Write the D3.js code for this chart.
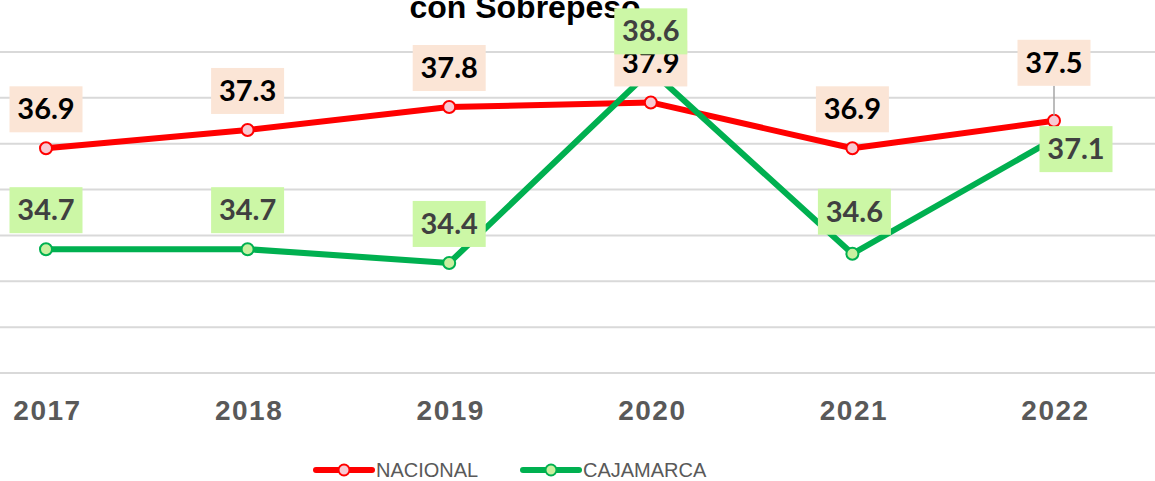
<!DOCTYPE html>
<html>
<head>
<meta charset="utf-8">
<script src="https://cdn.jsdelivr.net/npm/d3@7"></script>
<style>
  body { margin: 0; background: #fff; }
  svg { display: block; }
</style>
</head>
<body>
<div id="chart"></div>
<script>
'use strict';

// data
const years = ['2017', '2018', '2019', '2020', '2021', '2022'];
const nacional = [36.9, 37.3, 37.8, 37.9, 36.9, 37.5];
const cajamarca = [34.7, 34.7, 34.4, 38.6, 34.6, 37.1];
const yTicks = [32, 33, 34, 35, 36, 37, 38, 39];
const seriesNames = ['NACIONAL', 'CAJAMARCA'];

// label placement tweaks (Excel moved a couple of them by hand)
const nacionalLabelShift = [[0, 0], [0, 0], [0, 0], [0, 0], [0, 0], [0, -19]];
const cajamarcaLabelShift = [[0, 0], [0, 0], [0, 0], [0, 0], [2, -3], [22, 49]];

const W = 1155, H = 481;
const styles = [
    {line: '#FF0000', markFill: '#F8C9D2', markStroke: '#FF0000', boxFill: '#FBE5D6', text: '#000000', shift: nacionalLabelShift},
    {line: '#00B050', markFill: '#C9F0A0', markStroke: '#00B050', boxFill: '#CCF7A6', text: '#404040', shift: cajamarcaLabelShift}
];

const series = [nacional, cajamarca].map((vals, s) => ({
    name: seriesNames[s],
    style: styles[s],
    values: vals.map((v, i) => ({year: years[i], value: v, i: i}))
}));

const svg = d3.select('#chart').append('svg')
    .attr('width', W)
    .attr('height', H);

const x = d3.scalePoint().domain(years).range([46, 1054]);
const y = d3.scaleLinear().domain([32, 39]).range([373, 52]);

// gridlines
svg.append('g').attr('class', 'grid')
    .selectAll('line')
    .data(yTicks)
    .enter()
    .append('line')
    .attr('x1', 0)
    .attr('x2', W)
    .attr('y1', d => y(d))
    .attr('y2', d => y(d))
    .attr('stroke', '#D9D9D9')
    .attr('stroke-width', 2);

// x axis
const xAxis = d3.axisBottom(x).tickSize(0).tickPadding(27);
const xAxisGroup = svg.append('g')
    .attr('class', 'xAxis')
    .attr('transform', 'translate(0,' + y(32) + ')')
    .call(xAxis);
xAxisGroup.select('.domain').remove();
xAxisGroup.selectAll('text')
    .attr('fill', '#595959')
    .attr('dx', '1px')
    .style('font-family', '"Liberation Sans", Arial, sans-serif')
    .style('font-size', '28px')
    .style('letter-spacing', '1.5px')
    .style('font-weight', 'bold');

// title (first line cut off in the source picture)
svg.append('text')
    .attr('x', 525)
    .attr('y', 18)
    .attr('text-anchor', 'middle')
    .style('font-family', '"Liberation Sans", Arial, sans-serif')
    .style('font-size', '32px')
    .style('font-weight', 'bold')
    .attr('fill', '#000')
    .text('con Sobrepeso');

// lines + markers
const line = d3.line().x(d => x(d.year)).y(d => y(d.value));

series.forEach(s => {
    const g = svg.append('g').attr('class', 'series');
    g.append('path')
        .datum(s.values)
        .attr('d', line)
        .attr('fill', 'none')
        .attr('stroke', s.style.line)
        .attr('stroke-width', 6)
        .attr('stroke-linejoin', 'round')
        .attr('stroke-linecap', 'round');
    g.selectAll('circle')
        .data(s.values)
        .enter()
        .append('circle')
        .attr('cx', d => x(d.year))
        .attr('cy', d => y(d.value))
        .attr('r', 6)
        .attr('fill', s.style.markFill)
        .attr('stroke', s.style.markStroke)
        .attr('stroke-width', 2);
});

// data labels
const boxW = 73, boxH = 46, above = 39;

series.forEach(s => {
    const g = svg.append('g').attr('class', 'labels');
    s.values.forEach(d => {
        const px = x(d.year), py = y(d.value);
        const sh = s.style.shift[d.i];
        const cx = px + sh[0];
        const cy = py - above + sh[1];
        if (sh[1] < -5) {
            g.append('line')
                .attr('x1', px).attr('x2', px)
                .attr('y1', cy + boxH / 2).attr('y2', py - 5)
                .attr('stroke', '#A6A6A6')
                .attr('stroke-width', 1.5);
        }
        g.append('rect')
            .attr('x', cx - boxW / 2)
            .attr('y', cy - boxH / 2)
            .attr('width', boxW)
            .attr('height', boxH)
            .attr('fill', s.style.boxFill);
        g.append('text')
            .attr('x', cx)
            .attr('y', cy + 10)
            .attr('text-anchor', 'middle')
            .style('font-family', 'Lato, "Open Sans", sans-serif')
            .style('font-size', '29px')
            .style('font-weight', 'bold')
            .attr('fill', s.style.text)
            .text(d.value.toFixed(1));
    });
});

// legend
const legendX = [316, 523];
const legend = svg.append('g').attr('class', 'legend');
series.forEach((s, k) => {
    const lg = legend.append('g').attr('transform', 'translate(' + legendX[k] + ',470)');
    lg.append('line')
        .attr('x1', 0).attr('x2', 56)
        .attr('y1', 0).attr('y2', 0)
        .attr('stroke', s.style.line)
        .attr('stroke-width', 6)
        .attr('stroke-linecap', 'round');
    lg.append('circle')
        .attr('cx', 28).attr('cy', 0).attr('r', 5.5)
        .attr('fill', s.style.markFill)
        .attr('stroke', s.style.markStroke)
        .attr('stroke-width', 2);
    lg.append('text')
        .attr('x', 60)
        .attr('y', 7)
        .style('font-family', '"Liberation Sans", Arial, sans-serif')
        .style('font-size', '20px')
        .attr('fill', '#595959')
        .text(s.name);
});
</script>
</body>
</html>
